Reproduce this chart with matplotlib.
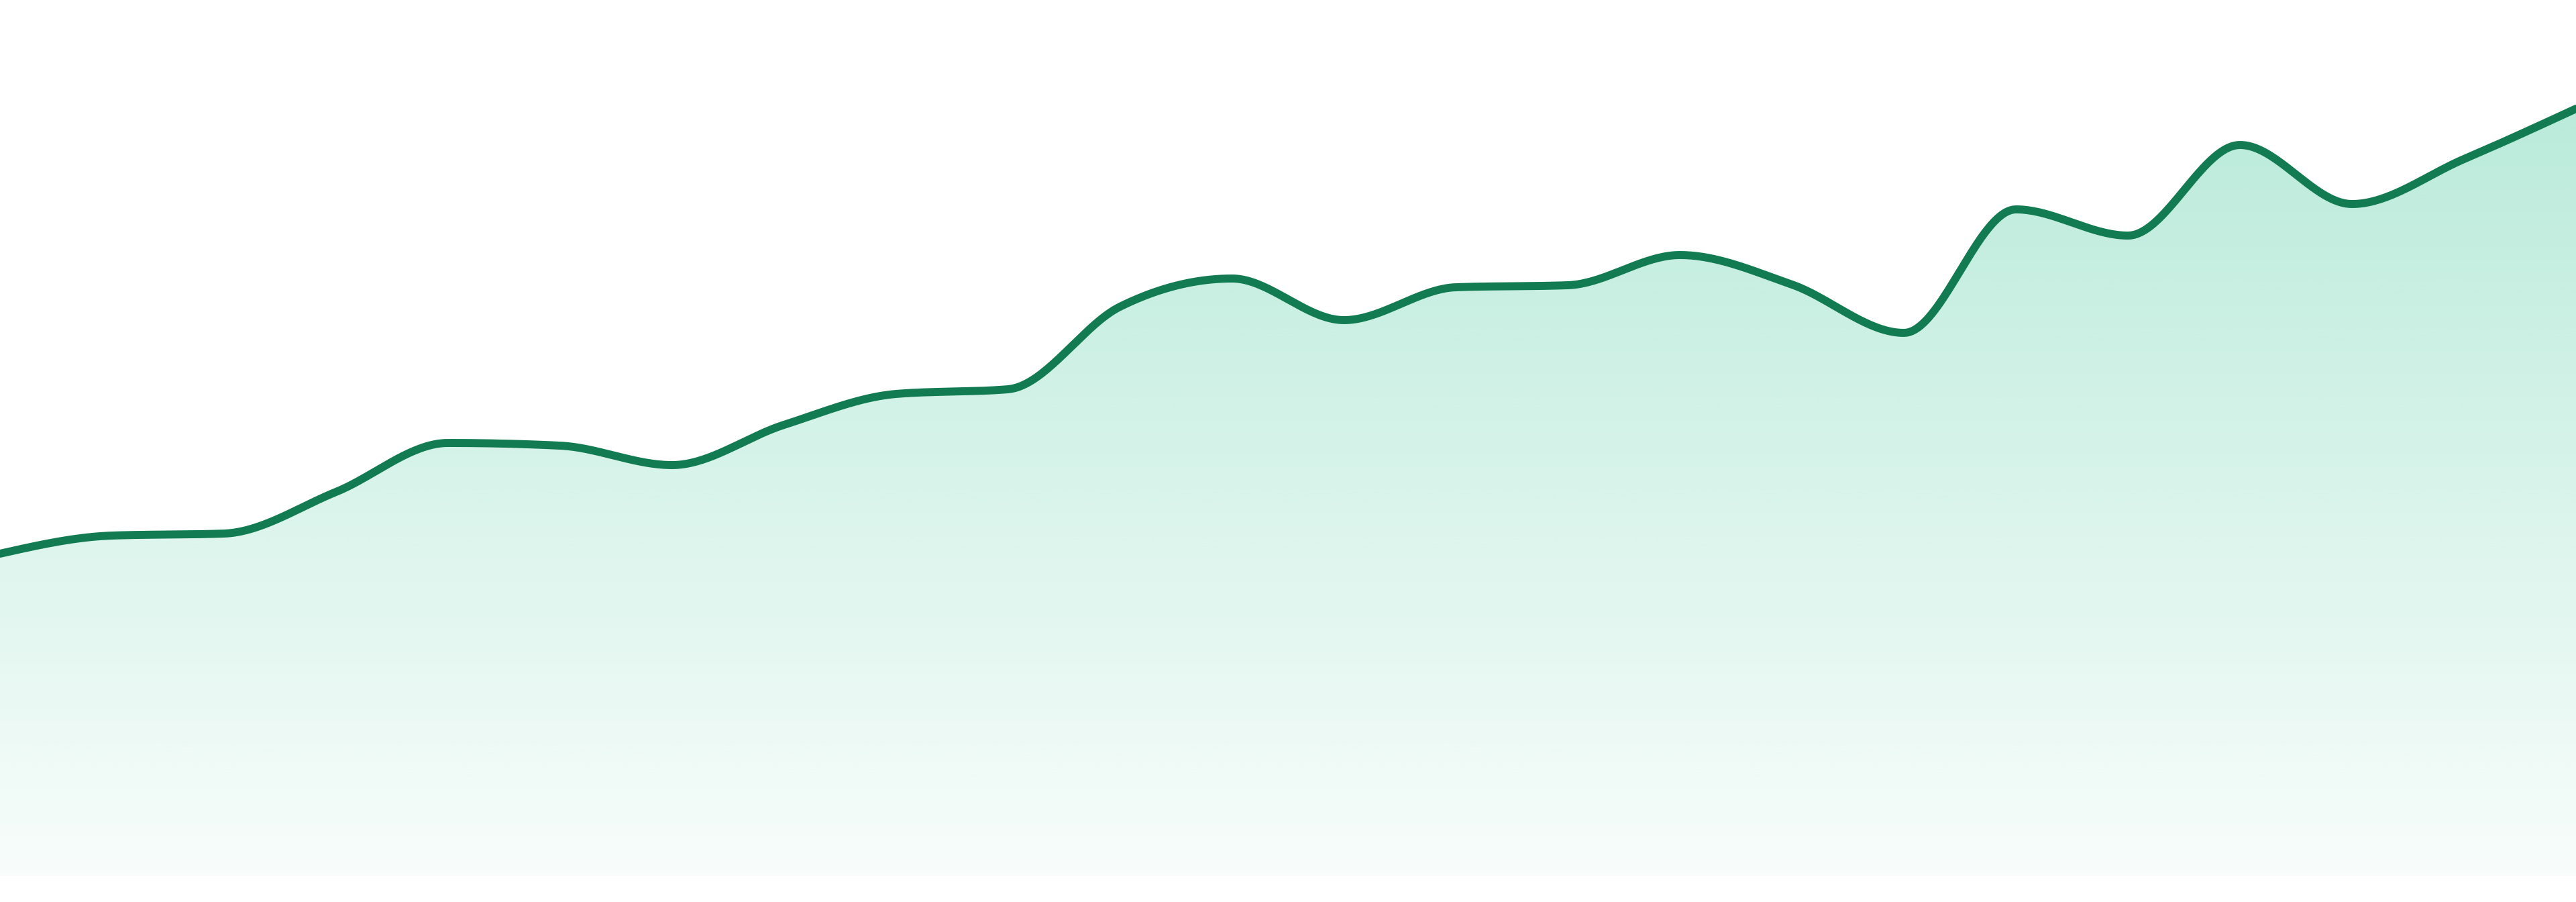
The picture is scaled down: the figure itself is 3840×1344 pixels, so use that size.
import numpy as np
import matplotlib
matplotlib.use("Agg")
import matplotlib.pyplot as plt
from matplotlib.patches import Polygon
from matplotlib.colors import to_rgb

# values (24 evenly spaced points)
periods = np.arange(24)
values = [48.0, 50.7, 51.0, 57.2, 64.5, 64.1, 61.2, 67.2, 71.8, 72.5, 84.8, 89.0,
          82.8, 87.7, 88.0, 92.5, 88.1, 80.9, 99.3, 95.4, 108.9, 100.1, 106.8, 114.3]

line_color = "#127b52"
fill_color = "#10b981"


def monotone_x(x, y, n=40):
    # monotone cubic (same idea as d3 curveMonotoneX)
    x = np.asarray(x, float)
    y = np.asarray(y, float)
    h = np.diff(x)
    s = np.diff(y) / h
    t = np.zeros_like(y)
    for i in range(1, len(y) - 1):
        p = (s[i - 1] * h[i] + s[i] * h[i - 1]) / (h[i - 1] + h[i])
        t[i] = (np.sign(s[i - 1]) + np.sign(s[i])) * min(abs(s[i - 1]), abs(s[i]), 0.5 * abs(p))
    t[0] = (3 * s[0] - t[1]) / 2
    t[-1] = (3 * s[-1] - t[-2]) / 2
    xs, ys = [], []
    for i in range(len(h)):
        u = np.linspace(0, 1, n, endpoint=False)
        h00 = 2 * u**3 - 3 * u**2 + 1
        h10 = u**3 - 2 * u**2 + u
        h01 = -2 * u**3 + 3 * u**2
        h11 = u**3 - u**2
        xs.append(x[i] + u * h[i])
        ys.append(h00 * y[i] + h10 * h[i] * t[i] + h01 * y[i + 1] + h11 * h[i] * t[i + 1])
    xs.append([x[-1]])
    ys.append([y[-1]])
    return np.concatenate(xs), np.concatenate(ys)


xs, ys = monotone_x(periods, values)

fig = plt.figure(figsize=(38.4, 13.44), dpi=100)
ax = fig.add_axes([0, 0, 1, 1])
ax.set_xlim(periods[0], periods[-1])
ax.set_ylim(-3.9, 130.5)
ax.axis("off")

# gradient fill under the curve
top = max(values)
rows = 400
alpha = np.linspace(0.03, 0.29, rows)[:, None]
rgb = np.array(to_rgb(fill_color))
img = np.zeros((rows, 2, 4))
img[..., :3] = rgb
img[..., 3] = alpha
im = ax.imshow(img, extent=[periods[0], periods[-1], 0, top], origin="lower",
               aspect="auto", interpolation="bilinear", zorder=1)
poly = Polygon(np.column_stack([np.r_[xs, xs[-1], xs[0]], np.r_[ys, 0, 0]]),
               closed=True, facecolor="none", edgecolor="none")
ax.add_patch(poly)
im.set_clip_path(poly)

ax.plot(xs, ys, color=line_color, linewidth=8.6, solid_capstyle="round", zorder=3)

fig.savefig("out.png", dpi=100, facecolor="white")
